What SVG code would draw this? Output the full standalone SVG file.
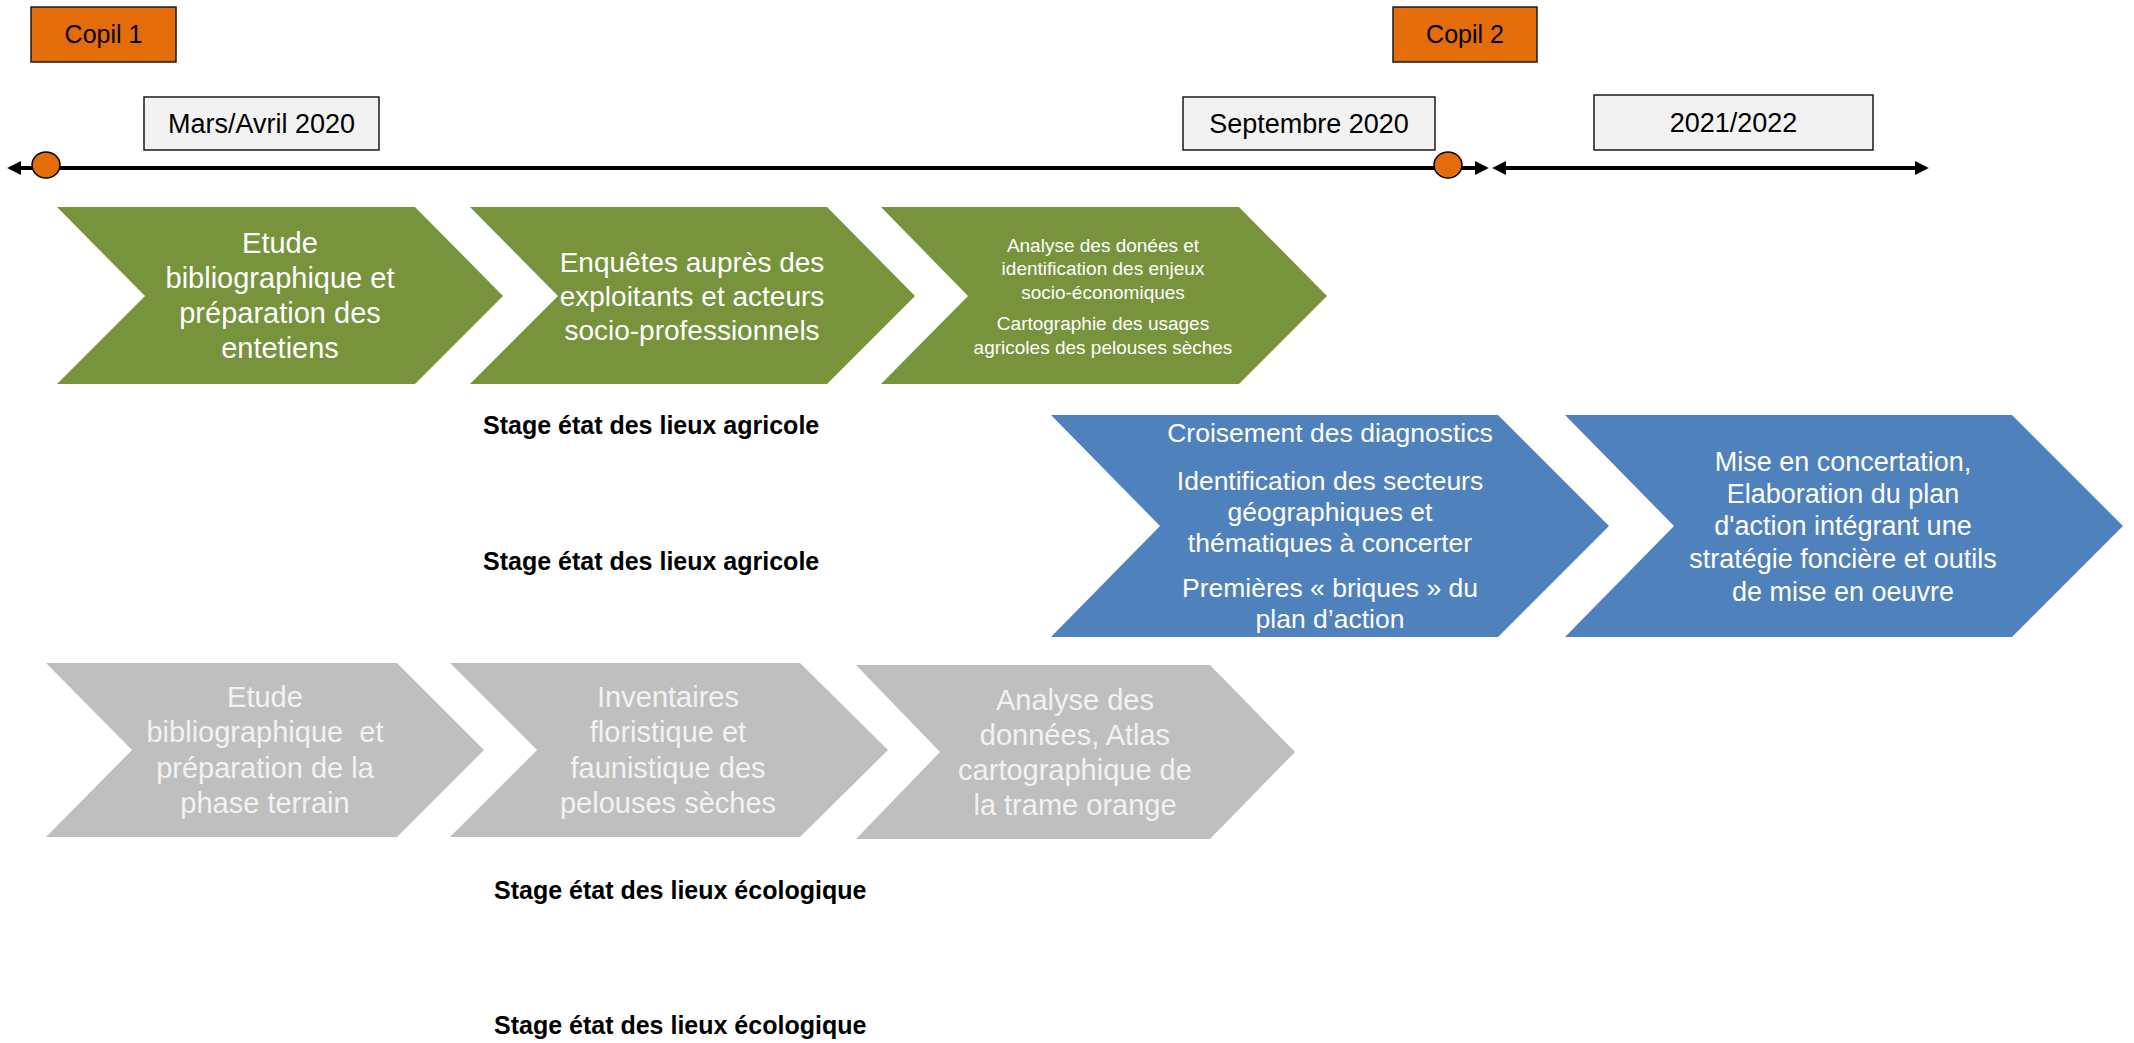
<svg xmlns="http://www.w3.org/2000/svg" width="2134" height="1043" viewBox="0 0 2134 1043">
<style>
  .bg{fill:#ffffff}
  .copil{fill:#e46c0a;stroke:#1a1a1a;stroke-width:1.5}
  .date{fill:#f2f2f2;stroke:#1a1a1a;stroke-width:1.5}
  .lbl{font-family:"Liberation Sans",Arial,sans-serif;fill:#000;text-anchor:middle}
  .green{fill:#77933c}
  .blue{fill:#4f81bd}
  .grey{fill:#bfbfbf}
  .wt{font-family:"Liberation Sans",Arial,sans-serif;fill:#ffffff;text-anchor:middle}
  .gt{font-family:"Liberation Sans",Arial,sans-serif;fill:#f2f2f2;text-anchor:middle}
  .stage{font-family:"Liberation Sans",Arial,sans-serif;font-weight:bold;font-size:25px;fill:#000}
  .axis{stroke:#000;stroke-width:4;fill:none}
  .dot{fill:#e46c0a;stroke:#000;stroke-width:1.5}
</style>
<defs>
  <marker id="ah" viewBox="0 0 10 10" refX="3" refY="5" markerWidth="14" markerHeight="14" markerUnits="userSpaceOnUse" orient="auto-start-reverse">
    <path d="M0,0 L10,5 L0,10 z" fill="#000"/>
  </marker>
</defs>
<rect class="bg" x="0" y="0" width="2134" height="1043"/>

<g id="connectors">
  <line class="axis" x1="17" y1="168" x2="1479" y2="168" marker-start="url(#ah)" marker-end="url(#ah)"/>
  <line class="axis" x1="1502" y1="168" x2="1919" y2="168" marker-start="url(#ah)" marker-end="url(#ah)"/>
</g>

<g id="milestone1"><ellipse class="dot" cx="46" cy="165" rx="14" ry="13"/></g>
<g id="milestone2"><ellipse class="dot" cx="1448" cy="165" rx="14" ry="13"/></g>

<g id="copil1">
  <rect class="copil" x="31" y="7" width="145" height="55"/>
  <text class="lbl" x="103.5" y="43" font-size="25">Copil 1</text>
</g>
<g id="copil2">
  <rect class="copil" x="1393" y="7" width="144" height="55"/>
  <text class="lbl" x="1465" y="43" font-size="25">Copil 2</text>
</g>

<g id="date-mars">
  <rect class="date" x="144" y="97" width="235" height="53"/>
  <text class="lbl" x="261.5" y="133" font-size="27">Mars/Avril 2020</text>
</g>
<g id="date-sept">
  <rect class="date" x="1183" y="97" width="252" height="53"/>
  <text class="lbl" x="1309" y="133" font-size="27">Septembre 2020</text>
</g>
<g id="date-2021">
  <rect class="date" x="1594" y="95" width="279" height="55"/>
  <text class="lbl" x="1733.5" y="132" font-size="27">2021/2022</text>
</g>

<g id="green1">
  <polygon class="green" points="57,207 415,207 503,296 415,384 57,384 145,296"/>
  <text class="wt" font-size="29"><tspan x="280" y="253">Etude</tspan><tspan x="280" y="288">bibliographique et</tspan><tspan x="280" y="323">préparation des</tspan><tspan x="280" y="358">entetiens</tspan></text>
</g>
<g id="green2">
  <polygon class="green" points="470,207 827,207 915,296 827,384 470,384 558,296"/>
  <text class="wt" font-size="28"><tspan x="692" y="272">Enquêtes auprès des</tspan><tspan x="692" y="306">exploitants et acteurs</tspan><tspan x="692" y="340">socio-professionnels</tspan></text>
</g>
<g id="green3">
  <polygon class="green" points="881,207 1239,207 1327,296 1239,384 881,384 968,296"/>
  <text class="wt" font-size="19"><tspan x="1103" y="252">Analyse des donées et</tspan><tspan x="1103" y="275">identification des enjeux</tspan><tspan x="1103" y="299">socio-économiques</tspan><tspan x="1103" y="330">Cartographie des usages</tspan><tspan x="1103" y="354">agricoles des pelouses sèches</tspan></text>
</g>

<g id="stage-agri-1"><text class="stage" x="483" y="434">Stage état des lieux agricole</text></g>
<g id="stage-agri-2"><text class="stage" x="483" y="570">Stage état des lieux agricole</text></g>

<g id="blue1">
  <polygon class="blue" points="1051,415 1498,415 1609,526 1498,637 1051,637 1160,526"/>
  <text class="wt" font-size="26.5"><tspan x="1330" y="442">Croisement des diagnostics</tspan><tspan x="1330" y="490">Identification des secteurs</tspan><tspan x="1330" y="521">géographiques et</tspan><tspan x="1330" y="552">thématiques à concerter</tspan><tspan x="1330" y="597">Premières « briques » du</tspan><tspan x="1330" y="628">plan d’action</tspan></text>
</g>
<g id="blue2">
  <polygon class="blue" points="1565,415 2012,415 2123,526 2012,637 1565,637 1674,526"/>
  <text class="wt" font-size="27"><tspan x="1843" y="471">Mise en concertation,</tspan><tspan x="1843" y="503">Elaboration du plan</tspan><tspan x="1843" y="535">d'action intégrant une</tspan><tspan x="1843" y="568">stratégie foncière et outils</tspan><tspan x="1843" y="601">de mise en oeuvre</tspan></text>
</g>

<g id="grey1">
  <polygon class="grey" points="46,663 397,663 484,750 397,837 46,837 132,750"/>
  <text class="gt" font-size="29" xml:space="preserve"><tspan x="265" y="707">Etude</tspan><tspan x="265" y="742">bibliographique  et</tspan><tspan x="265" y="778">préparation de la</tspan><tspan x="265" y="813">phase terrain</tspan></text>
</g>
<g id="grey2">
  <polygon class="grey" points="450,663 800,663 888,750 800,837 450,837 537,750"/>
  <text class="gt" font-size="29"><tspan x="668" y="707">Inventaires</tspan><tspan x="668" y="742">floristique et</tspan><tspan x="668" y="778">faunistique des</tspan><tspan x="668" y="813">pelouses sèches</tspan></text>
</g>
<g id="grey3">
  <polygon class="grey" points="856,665 1210,665 1295,752 1210,839 856,839 940,752"/>
  <text class="gt" font-size="29"><tspan x="1075" y="710">Analyse des</tspan><tspan x="1075" y="745">données, Atlas</tspan><tspan x="1075" y="780">cartographique de</tspan><tspan x="1075" y="815">la trame orange</tspan></text>
</g>

<g id="stage-eco-1"><text class="stage" x="494" y="899">Stage état des lieux écologique</text></g>
<g id="stage-eco-2"><text class="stage" x="494" y="1034">Stage état des lieux écologique</text></g>
</svg>
